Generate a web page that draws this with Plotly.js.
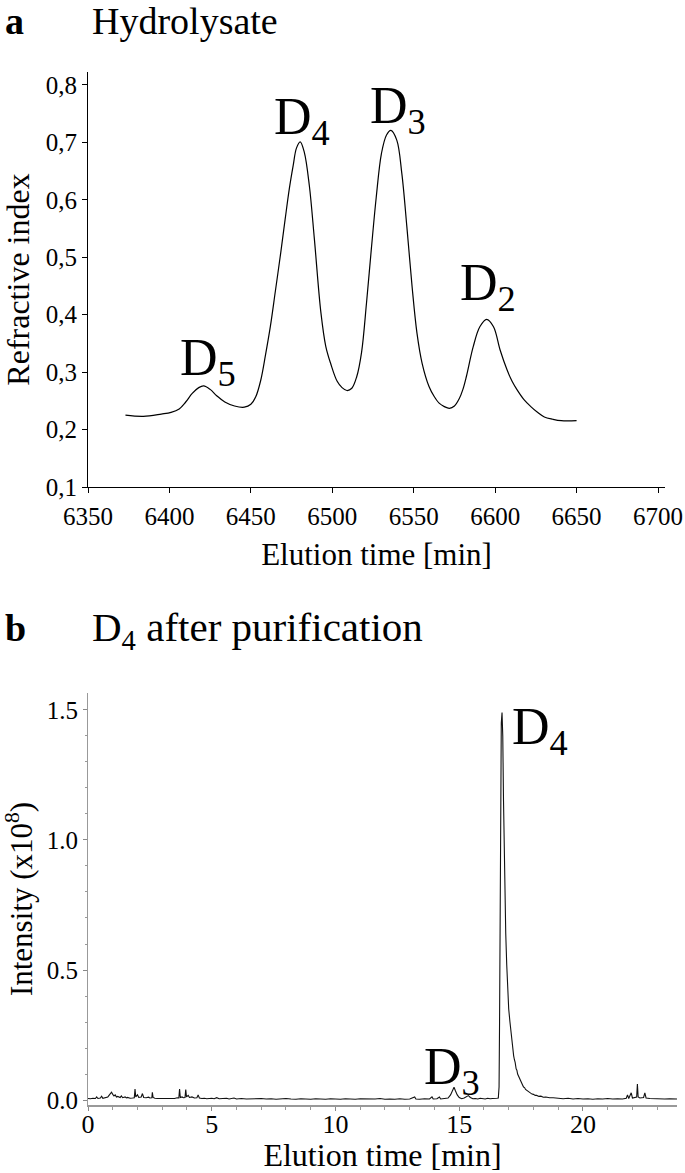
<!DOCTYPE html>
<html><head><meta charset="utf-8">
<script src="https://cdn.plot.ly/plotly-3.0.1.min.js"></script>
<style>html,body{margin:0;padding:0;background:#fff}#chart{width:685px;height:1173px}</style>
</head><body><div id="chart"></div>
<script>
// Panel a: Hydrolysate (refractive index vs elution time)
const hydroTime = [6373, 6384, 6395, 6401, 6406, 6410, 6414, 6418, 6421, 6425, 6429, 6434, 6440, 6446, 6450, 6453, 6456, 6459, 6462, 6465, 6468.4, 6471, 6473.6, 6476, 6478, 6480.3, 6482.8, 6485.9, 6489, 6493, 6496, 6499, 6503, 6506, 6509, 6512, 6515, 6518, 6521, 6524, 6527, 6530.2, 6533.3, 6536, 6539.6, 6542.7, 6545.8, 6549, 6552, 6555.2, 6559.4, 6562.5, 6565.6, 6568.8, 6571.9, 6575, 6578, 6580.2, 6582.3, 6586.5, 6590.6, 6594.8, 6599, 6603, 6607.3, 6610.4, 6613.5, 6617.7, 6621.9, 6626, 6630.2, 6635.4, 6640.6, 6650];
const hydroRI = [0.225, 0.223, 0.227, 0.230, 0.236, 0.248, 0.263, 0.273, 0.276, 0.270, 0.259, 0.248, 0.241, 0.239, 0.244, 0.257, 0.285, 0.330, 0.380, 0.440, 0.509, 0.565, 0.619, 0.660, 0.690, 0.701, 0.683, 0.625, 0.532, 0.404, 0.345, 0.315, 0.284, 0.273, 0.268, 0.272, 0.292, 0.335, 0.420, 0.515, 0.605, 0.681, 0.713, 0.721, 0.704, 0.646, 0.553, 0.449, 0.368, 0.315, 0.275, 0.258, 0.246, 0.240, 0.237, 0.241, 0.254, 0.270, 0.292, 0.344, 0.379, 0.392, 0.379, 0.339, 0.304, 0.284, 0.269, 0.252, 0.240, 0.230, 0.222, 0.218, 0.2155, 0.2155];
const hydroYTicks = [0.1, 0.2, 0.3, 0.4, 0.5, 0.6, 0.7, 0.8];
const hydroYTickText = ["0,1", "0,2", "0,3", "0,4", "0,5", "0,6", "0,7", "0,8"];
const hydroXTicks = [6350, 6400, 6450, 6500, 6550, 6600, 6650, 6700];
const hydroLabels = ["D<sub>5</sub>", "D<sub>4</sub>", "D<sub>3</sub>", "D<sub>2</sub>"];
const hydroLabelX = [6405, 6463, 6522, 6577];
const hydroLabelY = [0.295, 0.713, 0.733, 0.425];

// Panel b: D4 after purification (intensity x1e8 vs elution time)
const msTime = [0.00,0.10,0.20,0.30,0.35,0.40,0.50,0.55,0.60,0.70,0.80,0.85,0.90,0.95,1.00,1.05,1.10,1.15,1.20,1.30,1.35,1.40,1.50,1.55,1.60,1.70,1.80,1.87,1.90,1.93,2.00,2.05,2.15,2.20,2.25,2.35,2.45,2.50,2.58,2.60,2.63,2.70,2.80,2.90,3.00,3.10,3.20,3.30,3.40,3.50,3.60,3.67,3.70,3.73,3.80,3.85,3.92,3.95,3.98,4.05,4.10,4.20,4.30,4.40,4.45,4.50,4.60,4.70,4.80,4.90,5.00,5.10,5.20,5.30,5.40,5.50,5.60,5.70,5.80,5.90,6.00,6.20,6.40,6.60,6.80,7.00,7.20,7.40,7.60,7.80,8.00,8.20,8.40,8.60,8.80,9.00,9.20,9.40,9.60,9.80,10.00,10.20,10.40,10.60,10.80,11.00,11.20,11.40,11.60,11.80,12.00,12.20,12.40,12.60,12.80,13.00,13.20,13.25,13.40,13.60,13.80,13.90,13.95,14.10,14.20,14.25,14.40,14.55,14.65,14.72,14.79,14.85,14.92,15.00,15.10,15.20,15.30,15.37,15.45,15.55,15.65,15.75,15.85,15.95,16.05,16.15,16.25,16.35,16.45,16.52,16.58,16.61,16.63,16.65,16.67,16.70,16.73,16.76,16.79,16.82,16.85,16.88,16.92,16.96,17.00,17.05,17.08,17.10,17.13,17.16,17.20,17.23,17.26,17.30,17.33,17.36,17.40,17.43,17.46,17.50,17.53,17.56,17.60,17.64,17.68,17.72,17.77,17.82,17.88,17.94,18.00,18.07,18.13,18.22,18.30,18.40,18.50,18.65,18.80,19.00,19.20,19.40,19.60,19.80,20.00,20.20,20.40,20.60,20.80,21.00,21.20,21.40,21.60,21.75,21.80,21.85,21.95,22.00,22.10,22.17,22.20,22.23,22.30,22.45,22.50,22.55,22.70,22.90,23.10,23.30,23.50,23.80];
const msIntensity = [0.006,0.005,0.007,0.006,0.012,0.006,0.008,0.015,0.007,0.009,0.012,0.018,0.026,0.030,0.022,0.016,0.020,0.012,0.014,0.010,0.016,0.009,0.012,0.008,0.010,0.007,0.008,0.009,0.042,0.012,0.020,0.010,0.012,0.025,0.010,0.009,0.011,0.008,0.009,0.030,0.010,0.007,0.006,0.006,0.005,0.006,0.005,0.006,0.007,0.006,0.009,0.008,0.042,0.010,0.012,0.009,0.010,0.040,0.012,0.018,0.010,0.012,0.008,0.009,0.020,0.008,0.006,0.007,0.005,0.006,0.007,0.005,0.009,0.005,0.006,0.005,0.007,0.004,0.006,0.008,0.004,0.006,0.004,0.005,0.004,0.006,0.004,0.005,0.003,0.005,0.006,0.004,0.003,0.005,0.004,0.003,0.005,0.004,0.003,0.005,0.004,0.003,0.005,0.004,0.003,0.005,0.004,0.003,0.004,0.006,0.003,0.004,0.003,0.005,0.003,0.004,0.012,0.004,0.003,0.005,0.004,0.012,0.004,0.005,0.012,0.004,0.005,0.008,0.020,0.038,0.049,0.035,0.020,0.010,0.005,0.008,0.015,0.017,0.010,0.005,0.006,0.004,0.007,0.005,0.004,0.007,0.005,0.006,0.005,0.007,0.008,0.050,0.300,0.800,1.200,1.450,1.490,1.400,1.150,0.950,0.780,0.640,0.520,0.420,0.350,0.300,0.270,0.250,0.220,0.200,0.170,0.155,0.145,0.120,0.115,0.100,0.090,0.085,0.075,0.068,0.062,0.058,0.050,0.048,0.041,0.038,0.035,0.029,0.027,0.023,0.022,0.018,0.018,0.014,0.015,0.011,0.012,0.009,0.009,0.006,0.005,0.007,0.004,0.006,0.004,0.005,0.003,0.005,0.004,0.006,0.004,0.005,0.004,0.007,0.020,0.006,0.028,0.008,0.010,0.012,0.062,0.012,0.008,0.010,0.028,0.008,0.006,0.005,0.006,0.004,0.005,0.004];
const msYTicks = [0, 0.5, 1.0, 1.5];
const msYTickText = ["0.0", "0.5", "1.0", "1.5"];
const msXTicks = [0, 5, 10, 15, 20];
const msLabels = ["D<sub>4</sub>", "D<sub>3</sub>"];
const msLabelX = [17.05, 13.5];
const msLabelY = [1.366, 0.058];

const SERIF = '"Liberation Serif", "Times New Roman", Times, serif';
const W = 685, H = 1173;

const traces = [
  {x: hydroTime, y: hydroRI, type: 'scatter', mode: 'lines', xaxis: 'x', yaxis: 'y',
   line: {color: '#000', width: 1.2, shape: 'spline', smoothing: 1}, hoverinfo: 'x+y', showlegend: false},
  {x: msTime, y: msIntensity, type: 'scatter', mode: 'lines', xaxis: 'x2', yaxis: 'y2',
   line: {color: '#111', width: 1.1}, hoverinfo: 'x+y', showlegend: false}
];

const annotations = [];
hydroLabels.forEach((t, i) => annotations.push({text: t, x: hydroLabelX[i], y: hydroLabelY[i], xref: 'x', yref: 'y',
  xanchor: 'left', yanchor: 'middle', showarrow: false, yshift: 14, font: {family: SERIF, size: 52, color: '#000'}}));
msLabels.forEach((t, i) => annotations.push({text: t, x: msLabelX[i], y: msLabelY[i], xref: 'x2', yref: 'y2',
  xanchor: 'left', yanchor: 'middle', showarrow: false, yshift: 14, font: {family: SERIF, size: 52, color: '#000'}}));
annotations.push({text: '<b>a</b>', x: 3 / W, y: 1 - 35 / H, xref: 'paper', yref: 'paper', xanchor: 'left', yanchor: 'bottom', yshift: -9, showarrow: false, font: {family: SERIF, size: 38, color: '#000'}});
annotations.push({text: 'Hydrolysate', x: 90 / W, y: 1 - 34 / H, xref: 'paper', yref: 'paper', xanchor: 'left', yanchor: 'bottom', yshift: -10, showarrow: false, font: {family: SERIF, size: 38, color: '#000'}});
annotations.push({text: '<b>b</b>', x: 3 / W, y: 1 - 642 / H, xref: 'paper', yref: 'paper', xanchor: 'left', yanchor: 'bottom', yshift: -9, showarrow: false, font: {family: SERIF, size: 38, color: '#000'}});
annotations.push({text: 'D<sub>4</sub> after purification', x: 90 / W, y: 1 - 648 / H, xref: 'paper', yref: 'paper', xanchor: 'left', yanchor: 'bottom', yshift: -10, showarrow: false, font: {family: SERIF, size: 41, color: '#000'}});

const layout = {
  width: W, height: H,
  margin: {l: 0, r: 0, t: 0, b: 0},
  paper_bgcolor: '#fff', plot_bgcolor: '#fff',
  showlegend: false,
  font: {family: SERIF, color: '#000'},
  xaxis: {
    domain: [88 / W, 665 / W], range: [6350, 6704.3], anchor: 'y',
    tickmode: 'array', tickvals: hydroXTicks, ticks: 'outside', ticklen: 5, tickcolor: '#000', tickwidth: 1,
    ticklabelstandoff: 2,
    showline: true, linecolor: '#000', linewidth: 1, showgrid: false, zeroline: false,
    tickfont: {family: SERIF, size: 25, color: '#000'},
    title: {text: 'Elution time [min]', font: {family: SERIF, size: 31, color: '#000'}, standoff: 14}
  },
  yaxis: {
    domain: [1 - 487 / H, 1 - 72 / H], range: [0.1, 0.8226], anchor: 'x',
    tickmode: 'array', tickvals: hydroYTicks, ticktext: hydroYTickText, ticks: 'outside', ticklen: 5, tickcolor: '#000', tickwidth: 1,
    showline: true, linecolor: '#000', linewidth: 1, showgrid: false, zeroline: false,
    tickfont: {family: SERIF, size: 25, color: '#000'},
    title: {text: 'Refractive index', font: {family: SERIF, size: 32, color: '#000'}, standoff: 6}
  },
  xaxis2: {
    domain: [88 / W, 677 / W], range: [0, 23.8], anchor: 'y2',
    tickmode: 'array', tickvals: msXTicks, ticks: 'outside', ticklen: 4, tickcolor: '#888', tickwidth: 1,
    ticklabelstandoff: -9,
    minor: {dtick: 1, ticklen: 3, tickcolor: '#999', ticks: 'outside', showgrid: false},
    showline: true, linecolor: '#999', linewidth: 2, showgrid: false, zeroline: false,
    tickfont: {family: SERIF, size: 26, color: '#000'},
    title: {text: 'Elution time [min]', font: {family: SERIF, size: 32, color: '#000'}, standoff: 4}
  },
  yaxis2: {
    domain: [1 - 1105 / H, 1 - 693 / H], range: [-0.019, 1.565], anchor: 'x2',
    tickmode: 'array', tickvals: msYTicks, ticktext: msYTickText, ticks: 'outside', ticklen: 4, tickcolor: '#888', tickwidth: 1,
    minor: {dtick: 0.1, tick0: 0, ticklen: 2, tickcolor: '#999', ticks: 'outside', showgrid: false},
    showline: true, linecolor: '#999', linewidth: 1, showgrid: false, zeroline: false,
    tickfont: {family: SERIF, size: 25, color: '#000'},
    title: {text: 'Intensity (x10<sup>8</sup>)', font: {family: SERIF, size: 31, color: '#000'}, standoff: 6}
  },
  annotations: annotations
};

Plotly.newPlot('chart', traces, layout, {displayModeBar: false, staticPlot: true});
</script>
</body></html>
